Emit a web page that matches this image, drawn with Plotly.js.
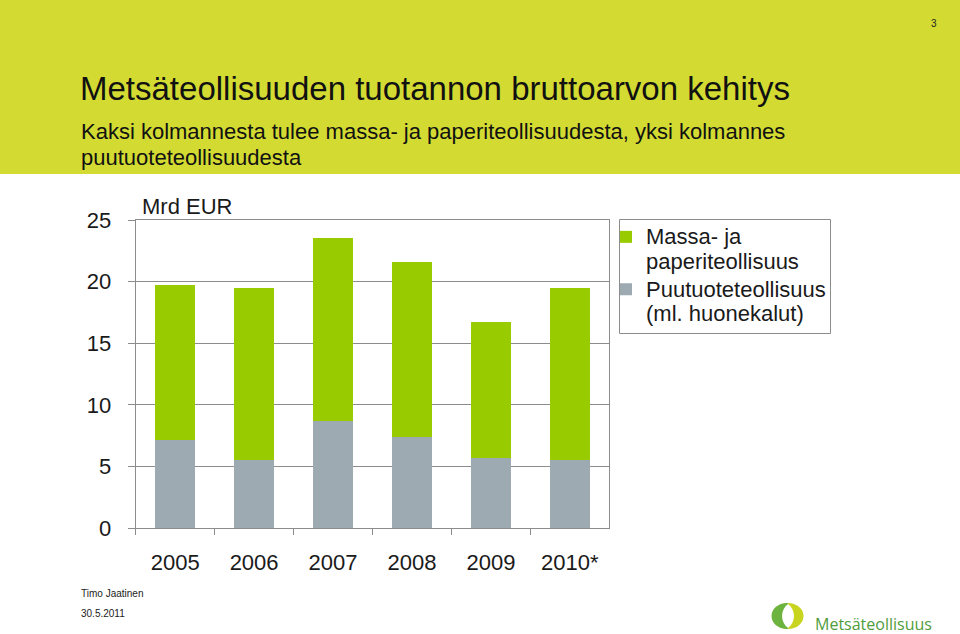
<!DOCTYPE html>
<html>
<head>
<meta charset="utf-8">
<script src="https://cdn.plot.ly/plotly-3.0.1.min.js"></script>
<style>html,body{margin:0;padding:0;background:#fff;}#chart{width:960px;height:634px;}</style>
</head>
<body>
<div id="chart"></div>
<script>
var years = ['2005', '2006', '2007', '2008', '2009', '2010*'];
var puutuote = [7.16, 5.54, 8.73, 7.43, 5.73, 5.54];
var massaPaperi = [12.55, 13.97, 14.81, 14.17, 10.98, 13.97];
var yTicks = [0, 5, 10, 15, 20, 25];
var seriesNames = ['Puutuoteteollisuus<br>(ml. huonekalut)', 'Massa- ja<br>paperiteollisuus'];

var W = 960, H = 634;
function px(x){ return x / W; }
function py(y){ return (H - y) / H; }

var font = 'Liberation Sans, Arial, sans-serif';
function big(s){
  return s.split('<br>').map(function(p){ return '<span style="font-size:22px">' + p + '</span>'; }).join('<br>');
}

var traces = [
  {type: 'bar', x: years, y: puutuote, name: big(seriesNames[0]), marker: {color: '#9eaab2'}, hoverinfo: 'y'},
  {type: 'bar', x: years, y: massaPaperi, name: big(seriesNames[1]), marker: {color: '#99cc00'}, hoverinfo: 'y'}
];

var layout = {
  width: W, height: H,
  margin: {l: 0, r: 0, t: 0, b: 0},
  paper_bgcolor: '#ffffff', plot_bgcolor: '#ffffff',
  barmode: 'stack', bargap: 0.5,
  font: {family: font, color: '#1a1a1a', size: 22},
  showlegend: true,
  legend: {
    x: px(606), y: py(218), xanchor: 'left', yanchor: 'top',
    borderwidth: 0, bgcolor: 'rgba(0,0,0,0)', valign: 'top',
    traceorder: 'reversed', font: {size: 19, family: font, color: '#1a1a1a'},
    itemsizing: 'constant', tracegroupgap: 7
  },
  xaxis: {
    domain: [px(135.7), px(609.3)],
    type: 'category', tickson: 'boundaries', ticks: 'outside', ticklen: 6,
    tickcolor: '#8c8c8c', showline: true, linecolor: '#8c8c8c', mirror: true,
    showgrid: false, tickfont: {size: 22, family: font, color: '#1a1a1a'},
    ticklabelstandoff: 14, fixedrange: true
  },
  yaxis: {
    domain: [py(528.3), py(220)],
    range: [0, 25], tickvals: yTicks, ticktext: yTicks.map(String),
    ticks: 'outside', ticklen: 7, tickcolor: '#8c8c8c',
    showline: true, linecolor: '#8c8c8c', mirror: true,
    showgrid: true, gridcolor: '#8c8c8c', gridwidth: 1, zeroline: false,
    tickfont: {size: 22, family: font, color: '#1a1a1a'},
    ticklabelstandoff: 12, fixedrange: true
  },
  shapes: [
    {type: 'rect', xref: 'paper', yref: 'paper', x0: 0, x1: 1, y0: py(174), y1: 1, fillcolor: '#d3db33', line: {width: 0}, layer: 'below'},
    {type: 'rect', xref: 'paper', yref: 'paper', x0: px(619.5), x1: px(830.5), y0: py(333.5), y1: py(219.5), fillcolor: 'rgba(0,0,0,0)', line: {width: 1, color: '#8c8c8c'}},
    {type: 'circle', xref: 'paper', yref: 'paper', x0: px(772.5), x1: px(803.5), y0: py(629), y1: py(603), fillcolor: '#c9d41f', line: {width: 0}},
    {type: 'path', xref: 'paper', yref: 'paper',
      path: 'M ' + px(788) + ' ' + py(603) + ' C ' + px(766) + ' ' + py(603) + ' ' + px(766) + ' ' + py(629) + ' ' + px(788) + ' ' + py(629) + ' Z',
      fillcolor: '#6cb33f', line: {width: 0}},
    {type: 'path', xref: 'paper', yref: 'paper',
      path: 'M ' + px(788) + ' ' + py(604) + ' C ' + px(780) + ' ' + py(610) + ' ' + px(780) + ' ' + py(622) + ' ' + px(788) + ' ' + py(628) + ' C ' + px(796) + ' ' + py(622) + ' ' + px(796) + ' ' + py(610) + ' ' + px(788) + ' ' + py(604) + ' Z',
      fillcolor: '#ffffff', line: {width: 0}}
  ],
  annotations: [
    {xref: 'paper', yref: 'paper', x: px(78), y: py(88), xanchor: 'left', yanchor: 'middle', showarrow: false,
      text: 'Metsäteollisuuden tuotannon bruttoarvon kehitys', font: {size: 33, family: font, color: '#111'}},
    {xref: 'paper', yref: 'paper', x: px(79), y: py(131), xanchor: 'left', yanchor: 'middle', showarrow: false,
      text: 'Kaksi kolmannesta tulee massa- ja paperiteollisuudesta, yksi kolmannes', font: {size: 22, family: font, color: '#111'}},
    {xref: 'paper', yref: 'paper', x: px(79), y: py(157), xanchor: 'left', yanchor: 'middle', showarrow: false,
      text: 'puutuoteteollisuudesta', font: {size: 22, family: font, color: '#111'}},
    {xref: 'paper', yref: 'paper', x: px(939), y: py(24), xanchor: 'right', yanchor: 'middle', showarrow: false,
      text: '3', font: {size: 10, family: font, color: '#222'}},
    {xref: 'paper', yref: 'paper', x: px(140), y: py(207), xanchor: 'left', yanchor: 'middle', showarrow: false,
      text: 'Mrd EUR', font: {size: 22, family: font, color: '#1a1a1a'}},
    {xref: 'paper', yref: 'paper', x: px(79), y: py(593), xanchor: 'left', yanchor: 'middle', showarrow: false,
      text: 'Timo Jaatinen', font: {size: 10, family: font, color: '#222'}},
    {xref: 'paper', yref: 'paper', x: px(79), y: py(613), xanchor: 'left', yanchor: 'middle', showarrow: false,
      text: '30.5.2011', font: {size: 10, family: font, color: '#222'}},
    {xref: 'paper', yref: 'paper', x: px(813), y: py(624), xanchor: 'left', yanchor: 'middle', showarrow: false,
      text: 'Metsäteollisuus', font: {size: 16, family: 'Open Sans, sans-serif', color: '#4f9c3c'}}
  ]
};

Plotly.newPlot('chart', traces, layout, {displayModeBar: false, staticPlot: true});
</script>
</body>
</html>
